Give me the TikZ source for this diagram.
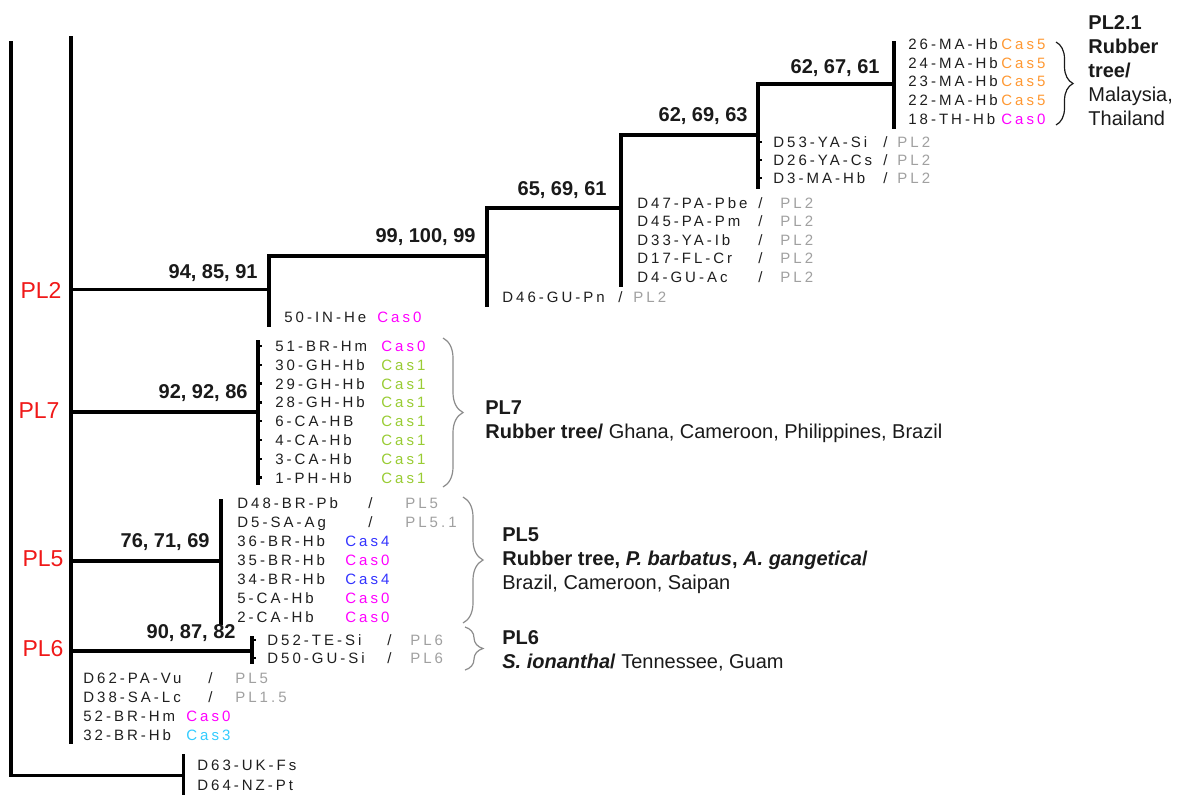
\documentclass[tikz,border=0pt]{standalone}
\usepackage{fontspec}
\setmainfont{Liberation Sans}
\newfontfamily\leaffont[LetterSpace=20]{Liberation Sans}
\usetikzlibrary{decorations.pathreplacing}
\definecolor{phyRed}{HTML}{F01818}
\definecolor{phyInk}{HTML}{1A1A1A}
\definecolor{phyLeaf}{HTML}{1F1F1F}
\definecolor{phyPale}{HTML}{A0A0A0}
\definecolor{phyBrace}{HTML}{8C8C8C}
\definecolor{casOrange}{HTML}{FF9933}
\definecolor{casMagenta}{HTML}{FF00FF}
\definecolor{casGreen}{HTML}{99CC33}
\definecolor{casBlue}{HTML}{3333FF}
\definecolor{casCyan}{HTML}{33CCFF}
\tikzset{
  phy branch/.style={draw=black, line width=2pt, line cap=rect},
  phy tick/.style={draw=black, line width=1.2pt},
  phy leaf/.style={font=\leaffont\fontsize{7.5}{9}\selectfont, text=phyLeaf, anchor=west, inner sep=0pt, text height=5.4pt, text depth=0pt},
  phy tag/.style={phy leaf, text=phyPale},
  phy boot/.style={font=\bfseries\fontsize{10}{12}\selectfont, text=phyInk, anchor=east, inner sep=0pt},
  phy clade/.style={font=\fontsize{11.5}{14}\selectfont, text=phyRed, inner sep=0pt},
  phy desc/.style={font=\fontsize{10}{12}\selectfont, text=phyInk, align=left, anchor=north west, inner sep=0pt},
  phy brace/.style={draw=phyBrace, line width=0.6pt, decorate, decoration={brace, amplitude=#1}},
}

\begin{document}
\begin{tikzpicture}[x=0.5pt, y=-0.5pt]
  \useasboundingbox[fill=white] (0,0) rectangle (1184,794);
  % Root and outgroup
  \coordinate (root top) at (11,43);
  \coordinate (root bot) at (11,775);
  \coordinate (out mid) at (183,775);
  \coordinate (out top) at (183,755);
  \coordinate (out bot) at (183,794);
  \draw[phy branch, line width=1.8pt] (root top) -- (root bot);
  \draw[phy branch, line width=1.5pt] (root bot) -- (out mid);
  \draw[phy branch, line width=1.5pt] (out top) -- (out bot);
  % Ingroup backbone
  \coordinate (ing top) at (71,38);
  \coordinate (ing bot) at (71,742);
  \draw[phy branch, line width=2.4pt] (ing top) -- (ing bot);
  % PL2 chain, one step per node
  \foreach \n/\px/\x/\y/\t/\b/\w in {1/71/269/289/256/325/1.5, 2/269/487/256/208/305/2,
      3/487/621/208/135/285/2, 4/621/758/135/84/187/2.2, 5/758/894/84/43/127/2} {
    \coordinate (n\n in) at (\px,\y);
    \coordinate (n\n) at (\x,\y);
    \coordinate (n\n top) at (\x,\t);
    \coordinate (n\n bot) at (\x,\b);
    \draw[phy branch, line width=\w pt] (n\n in) -- (n\n);
    \draw[phy branch] (n\n top) -- (n\n bot);
  }
  % PL7, PL5, PL6 off the backbone
  \foreach \n/\y/\x/\t/\b in {7/412/258/342/483, 5/561/221/501/623, 6/651/252/638/662} {
    \coordinate (p\n in) at (71,\y);
    \coordinate (p\n) at (\x,\y);
    \coordinate (p\n top) at (\x,\t);
    \coordinate (p\n bot) at (\x,\b);
    \draw[phy branch] (p\n in) -- (p\n);
    \draw[phy branch] (p\n top) -- (p\n bot);
  }
  % little leaf ticks
  \foreach \i in {1,...,8} \draw[phy tick] (258,{346+18.8*(\i-1)}) -- ++(4,0);
  \foreach \y in {142,160,178} \draw[phy tick] (758,\y) -- ++(4,0);
  \foreach \y in {640,658} \draw[phy tick] (252,\y) -- ++(4,0);
  % Bootstrap values
  \foreach \x/\y/\v [count=\k] in {258/273/{94, 85, 91}, 476/237/{99, 100, 99}, 607/190/{65, 69, 61},
      748/116/{62, 69, 63}, 880/68/{62, 67, 61}, 248/393/{92, 92, 86}, 210/542/{76, 71, 69}, 236/633/{90, 87, 82}}
    \node[phy boot] (bs\k) at (\x,\y) {\v};
  % Clade names on the backbone
  \node[phy clade] (c2) at (41,290) {PL2};
  \node[phy clade] (c7) at (39,411) {PL7};
  \node[phy clade] (c5) at (43,559) {PL5};
  \node[phy clade] (c6) at (43,649) {PL6};
  % PL2.1 leaves
  \foreach \i/\nm/\tg/\cl in {1/26-MA-Hb/Cas5/casOrange, 2/24-MA-Hb/Cas5/casOrange, 3/23-MA-Hb/Cas5/casOrange,
      4/22-MA-Hb/Cas5/casOrange, 5/18-TH-Hb/Cas0/casMagenta} {
    \node[phy leaf] (a\i) at (908,{44+18.7*(\i-1)}) {\nm};
    \node[phy leaf, text=\cl] (a\i tag) at (1001,{44+18.7*(\i-1)}) {\tg};
  }
  % PL2 leaves with older names
  \foreach \i/\nm/\y in {1/D53-YA-Si/142, 2/D26-YA-Cs/160, 3/D3-MA-Hb/178} {
    \node[phy leaf] (b\i) at (773,\y) {\nm};
    \node[phy leaf] (b\i sl) at (883,\y) {/};
    \node[phy tag] (b\i tag) at (897,\y) {PL2};
  }
  \foreach \i/\nm in {1/D47-PA-Pbe, 2/D45-PA-Pm, 3/D33-YA-Ib, 4/D17-FL-Cr, 5/D4-GU-Ac} {
    \node[phy leaf] (d\i) at (637,{203+18.5*(\i-1)}) {\nm};
    \node[phy leaf] (d\i sl) at (758,{203+18.5*(\i-1)}) {/};
    \node[phy tag] (d\i tag) at (780,{203+18.5*(\i-1)}) {PL2};
  }
  \node[phy leaf] (e1) at (502,297) {D46-GU-Pn};
  \node[phy leaf] (e1 sl) at (618,297) {/};
  \node[phy tag] (e1 tag) at (633,297) {PL2};
  \node[phy leaf] (f1) at (284,317) {50-IN-He};
  \node[phy leaf, text=casMagenta] (f1 tag) at (377,317) {Cas0};
  % PL7 leaves
  \foreach \i/\nm/\tg/\cl in {1/51-BR-Hm/Cas0/casMagenta, 2/30-GH-Hb/Cas1/casGreen, 3/29-GH-Hb/Cas1/casGreen,
      4/28-GH-Hb/Cas1/casGreen, 5/6-CA-HB/Cas1/casGreen, 6/4-CA-Hb/Cas1/casGreen, 7/3-CA-Hb/Cas1/casGreen,
      8/1-PH-Hb/Cas1/casGreen} {
    \node[phy leaf] (g\i) at (275,{346+18.8*(\i-1)}) {\nm};
    \node[phy leaf, text=\cl] (g\i tag) at (381,{346+18.8*(\i-1)}) {\tg};
  }
  % PL5 leaves
  \foreach \i/\nm in {1/D48-BR-Pb, 2/D5-SA-Ag, 3/36-BR-Hb, 4/35-BR-Hb, 5/34-BR-Hb, 6/5-CA-Hb, 7/2-CA-Hb}
    \node[phy leaf] (h\i) at (237,{503+19*(\i-1)}) {\nm};
  \foreach \i/\tg in {1/PL5, 2/PL5.1} {
    \node[phy leaf] (h\i sl) at (368,{503+19*(\i-1)}) {/};
    \node[phy tag] (h\i tag) at (405,{503+19*(\i-1)}) {\tg};
  }
  \foreach \i/\tg/\cl in {3/Cas4/casBlue, 4/Cas0/casMagenta, 5/Cas4/casBlue, 6/Cas0/casMagenta, 7/Cas0/casMagenta}
    \node[phy leaf, text=\cl] (h\i tag) at (345,{503+19*(\i-1)}) {\tg};
  % PL6 leaves
  \foreach \i/\nm/\y in {1/D52-TE-Si/640, 2/D50-GU-Si/658} {
    \node[phy leaf] (k\i) at (267,\y) {\nm};
    \node[phy leaf] (k\i sl) at (387,\y) {/};
    \node[phy tag] (k\i tag) at (410,\y) {PL6};
  }
  % Unresolved leaves on the backbone
  \foreach \i/\nm/\y in {1/D62-PA-Vu/678, 2/D38-SA-Lc/697, 3/52-BR-Hm/716, 4/32-BR-Hb/735}
    \node[phy leaf] (m\i) at (83,\y) {\nm};
  \node[phy leaf] (m1 sl) at (208,678) {/};
  \node[phy tag] (m1 tag) at (235,678) {PL5};
  \node[phy leaf] (m2 sl) at (208,697) {/};
  \node[phy tag] (m2 tag) at (235,697) {PL1.5};
  \node[phy leaf, text=casMagenta] (m3 tag) at (186,716) {Cas0};
  \node[phy leaf, text=casCyan] (m4 tag) at (186,735) {Cas3};
  % Outgroup leaves
  \node[phy leaf] (o1) at (197,765) {D63-UK-Fs};
  \node[phy leaf] (o2) at (197,785) {D64-NZ-Pt};
  % Braces and group notes
  \draw[phy brace=8.5pt, draw=phyInk] (1056,42) -- (1056,125);
  \draw[phy brace=10pt] (443,338) -- (443,487);
  \draw[phy brace=10pt] (463,497) -- (463,623);
  \draw[phy brace=9pt] (465,627) -- (465,670);
  \node[phy desc] (t21) at (1088,15) {\textbf{PL2.1}\\\textbf{Rubber}\\\textbf{tree/}\\Malaysia,\\Thailand};
  \node[phy desc] (t7) at (485,400) {\textbf{PL7}\\\textbf{Rubber tree/} Ghana, Cameroon, Philippines, Brazil};
  \node[phy desc] (t5) at (502,527) {\textbf{PL5}\\\textbf{Rubber tree, \textit{P. barbatus}, \textit{A. gangetica}/}\\Brazil, Cameroon, Saipan};
  \node[phy desc] (t6) at (502,630) {\textbf{PL6}\\\textbf{\textit{S. ionantha}/} Tennessee, Guam};
\end{tikzpicture}
\end{document}
